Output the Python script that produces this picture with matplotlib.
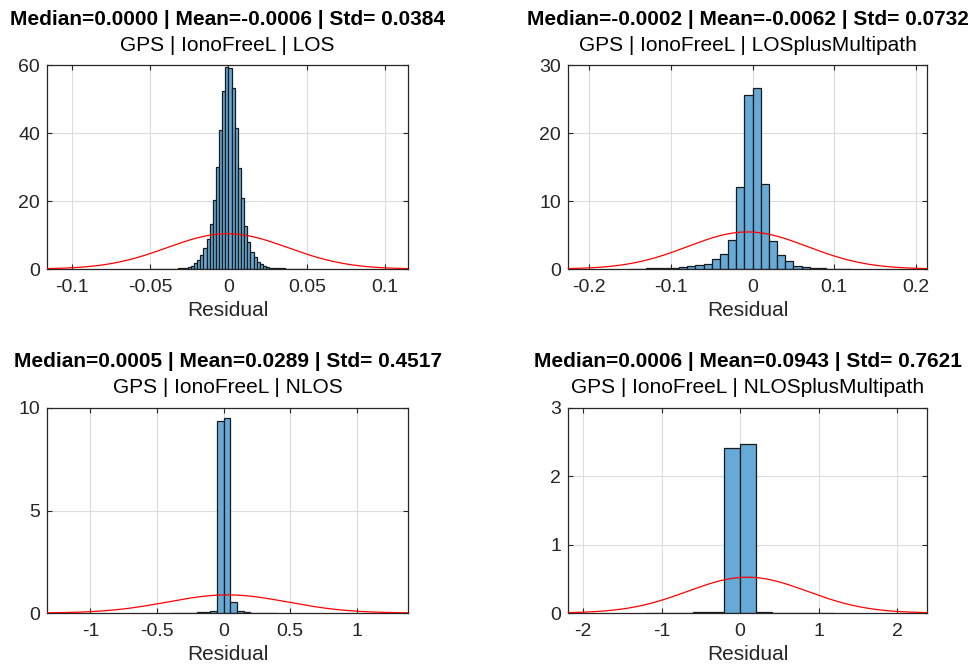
import numpy as np
import matplotlib
matplotlib.use("Agg")
import matplotlib.pyplot as plt

plt.rcParams["font.family"] = ["Liberation Sans", "DejaVu Sans"]
plt.rcParams["axes.unicode_minus"] = False

# ---- residual histograms (pdf normalised) ----
# LOS
los_start = -0.050
los_width = 0.002
los_heights = [0.05, 0.05, 0.05, 0.05, 0.05, 0.08, 0.08, 0.1, 0.1, 0.15,
               0.2, 0.3, 0.5, 1.0, 1.7, 2.6, 4.1, 6.1, 8.8, 13.1,
               20.3, 30.1, 40.9, 52.3, 59.3, 59.0, 53.1, 41.6, 29.6, 20.8,
               12.7, 8.0, 5.1, 3.6, 2.1, 1.4, 1.0, 0.6, 0.4, 0.3,
               0.2, 0.2, 0.15, 0.1, 0.1, 0.08, 0.05, 0.05, 0.05, 0.05]

# LOSplusMultipath
lpm_start = -0.150
lpm_width = 0.01
lpm_heights = [0.05, 0.05, 0.08, 0.1, 0.15, 0.2, 0.3, 0.45, 0.6, 0.8,
               1.4, 2.2, 4.3, 12.0, 25.6, 26.6, 12.5, 4.1, 2.1, 1.2,
               0.5, 0.35, 0.2, 0.1, 0.05, 0.05, 0.03]

# NLOS
nlos_start = -0.40
nlos_width = 0.05
nlos_heights = [0.01, 0.01, 0.02, 0.02, 0.03, 0.03, 0.1, 9.36, 9.49, 0.54,
                0.1, 0.04, 0.02, 0.02, 0.01, 0.01]

# NLOSplusMultipath
npm_start = -1.20
npm_width = 0.2
npm_heights = [0.004, 0.006, 0.006, 0.008, 0.01, 2.41, 2.47, 0.012, 0.006,
               0.006, 0.004, 0.004]

titles = ["LOS", "LOSplusMultipath", "NLOS", "NLOSplusMultipath"]
medians = [0.0000, -0.0002, 0.0005, 0.0006]
means = [-0.0006, -0.0062, 0.0289, 0.0943]
stds = [0.0384, 0.0732, 0.4517, 0.7621]

xticks = [[-0.1, -0.05, 0, 0.05, 0.1],
          [-0.2, -0.1, 0, 0.1, 0.2],
          [-1, -0.5, 0, 0.5, 1],
          [-2, -1, 0, 1, 2]]
xticklabels = [["-0.1", "-0.05", "0", "0.05", "0.1"],
               ["-0.2", "-0.1", "0", "0.1", "0.2"],
               ["-1", "-0.5", "0", "0.5", "1"],
               ["-2", "-1", "0", "1", "2"]]
yticks = [[0, 20, 40, 60], [0, 10, 20, 30], [0, 5, 10], [0, 1, 2, 3]]

hists = [(los_start, los_width, los_heights),
         (lpm_start, lpm_width, lpm_heights),
         (nlos_start, nlos_width, nlos_heights),
         (npm_start, npm_width, npm_heights)]

W, H = 971, 671
fig = plt.figure(figsize=(W / 100, H / 100), dpi=100)

# axes boxes in pixels: left, top, right, bottom
boxes = [(47, 65, 408, 269), (568, 65, 927, 269),
         (47, 408, 408, 613), (568, 408, 927, 613)]

ax_col = "#262626"
bar_col = (0.4, 0.667, 0.843)

for i in range(4):
    l, t, r, b = boxes[i]
    ax = fig.add_axes([l / W, 1 - b / H, (r - l) / W, (b - t) / H])
    start, width, heights = hists[i]
    lefts = start + width * np.arange(len(heights))
    ax.bar(lefts, heights, width=width, align="edge", color=bar_col,
           edgecolor="#1a1a1a", linewidth=0.9, zorder=2)

    mu, sd = means[i], stds[i]
    xs = np.linspace(mu - 3 * sd, mu + 3 * sd, 300)
    pdf = np.exp(-0.5 * ((xs - mu) / sd) ** 2) / (sd * np.sqrt(2 * np.pi))
    ax.plot(xs, pdf, color="red", lw=0.9, zorder=3)

    ax.set_xlim(mu - 3 * sd, mu + 3 * sd)
    ax.set_ylim(yticks[i][0], yticks[i][-1])
    ax.set_xticks(xticks[i])
    ax.set_xticklabels(xticklabels[i])
    ax.set_yticks(yticks[i])
    ax.set_yticklabels([str(v) for v in yticks[i]])

    ax.grid(True, color="#dcdcdc", lw=0.8, zorder=0)
    ax.set_axisbelow(True)
    for s in ax.spines.values():
        s.set_color(ax_col)
        s.set_linewidth(0.9)
    ax.tick_params(direction="in", length=3.5, width=0.8, color=ax_col,
                   labelcolor=ax_col, labelsize=14, top=True, right=True)
    ax.tick_params(axis="x", pad=7)
    ax.tick_params(axis="y", pad=5)
    ax.set_xlabel("Residual", fontsize=15, color=ax_col, labelpad=4)

    ax.text(0.5, 1.098, f"GPS | IonoFreeL | {titles[i]}", transform=ax.transAxes,
            ha="center", va="center", fontsize=15, color="black")
    ax.text(0.5, 1.225,
            f"Median={medians[i]:.4f} | Mean={means[i]:.4f} | Std= {stds[i]:.4f}",
            transform=ax.transAxes, ha="center", va="center", fontsize=15,
            fontweight="bold", color="black")

fig.savefig("out.png", dpi=100, facecolor="white")
